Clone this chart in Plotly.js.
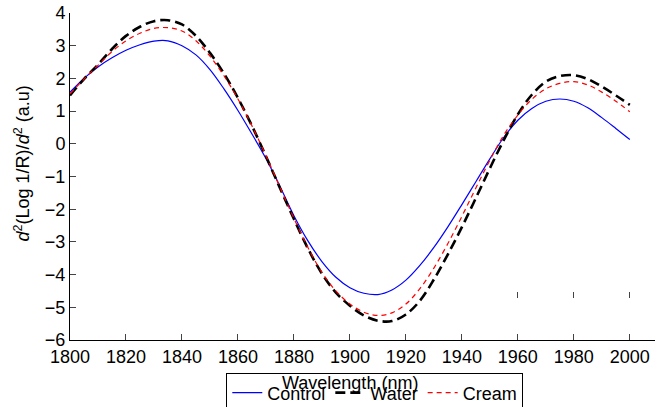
<!DOCTYPE html>
<html>
<head>
<meta charset="utf-8">
<script src="https://cdn.plot.ly/plotly-3.0.1.min.js"></script>
<style>html,body{margin:0;padding:0;background:#fff;}#chart{width:657px;height:407px;}</style>
</head>
<body>
<div id="chart"></div>
<script>
const wavelength = [1800,1805,1810,1815,1820,1825,1830,1835,1840,1845,1850,1855,1860,1865,1870,1875,1880,1885,1890,1895,1900,1905,1910,1915,1920,1925,1930,1935,1940,1945,1950,1955,1960,1965,1970,1975,1980,1985,1990,1995,2000];
const control = [1.58,2.0,2.35,2.63,2.86,3.03,3.14,3.15,3.0,2.72,2.27,1.68,1.02,0.3,-0.45,-1.3,-2.2,-2.97,-3.6,-4.08,-4.4,-4.57,-4.61,-4.47,-4.17,-3.72,-3.17,-2.54,-1.86,-1.16,-0.46,0.2,0.72,1.08,1.3,1.37,1.3,1.1,0.8,0.47,0.13];
const water = [1.48,1.98,2.42,2.9,3.3,3.58,3.75,3.78,3.65,3.3,2.78,2.15,1.4,0.55,-0.38,-1.35,-2.3,-3.2,-3.97,-4.55,-4.95,-5.25,-5.41,-5.42,-5.22,-4.8,-4.15,-3.38,-2.55,-1.66,-0.75,0.12,0.9,1.5,1.9,2.07,2.1,1.98,1.75,1.48,1.19];
const cream = [1.53,1.98,2.4,2.82,3.15,3.38,3.53,3.55,3.45,3.15,2.68,2.08,1.37,0.55,-0.36,-1.32,-2.28,-3.17,-3.93,-4.5,-4.9,-5.15,-5.25,-5.17,-4.9,-4.43,-3.8,-3.05,-2.22,-1.35,-0.5,0.27,0.88,1.36,1.68,1.85,1.9,1.8,1.58,1.3,0.98];
const seriesNames = ['Control','Water','Cream'];
const xTicks = [1800,1820,1840,1860,1880,1900,1920,1940,1960,1980,2000];
const yTicks = [-6,-5,-4,-3,-2,-1,0,1,2,3,4];
const strayTicks = [1960,1980,2000];

const FONT = 'Liberation Sans, Arial, Helvetica, sans-serif';
const traces = [
  {x: wavelength, y: control, name: seriesNames[0], type:'scatter', mode:'lines',
   line:{color:'#0000ff', width:1.2, shape:'spline'}},
  {x: wavelength, y: water, name: seriesNames[1], type:'scatter', mode:'lines',
   line:{color:'#000000', width:2.6, dash:'10px,5px', shape:'spline'}},
  {x: wavelength, y: cream, name: seriesNames[2], type:'scatter', mode:'lines',
   line:{color:'#ff0000', width:1.2, dash:'5px,4px', shape:'spline'}},
  {x: [strayTicks[0]], y: [null], xaxis:'x2', yaxis:'y', showlegend:false, hoverinfo:'skip', type:'scatter', mode:'lines'}
];
const layout = {
  width:657, height:407,
  margin:{l:70, r:2, t:13, b:67, autoexpand:false},
  paper_bgcolor:'#fff', plot_bgcolor:'#fff',
  font:{family:FONT, size:18, color:'#000'},
  showlegend:true,
  xaxis:{range:[1800,2009], tickvals:xTicks, ticktext:xTicks.map(String), ticks:'inside', ticklen:6, tickcolor:'#444', tickwidth:1,
         showline:true, linecolor:'#000', linewidth:1, showgrid:false, zeroline:false, mirror:false, automargin:false,
         tickfont:{family:FONT, size:18, color:'#000'}},
  xaxis2:{range:[1800,2009], overlaying:'x', anchor:'free', position:0.128, tickvals:strayTicks, ticks:'inside', ticklen:6,
          tickcolor:'#444', tickwidth:1, showline:false, showticklabels:false, showgrid:false, zeroline:false},
  yaxis:{range:[-6,4], tickvals:yTicks, ticks:'inside', ticklen:6, tickcolor:'#444', tickwidth:1, automargin:false,
         showline:true, linecolor:'#000', linewidth:1, showgrid:false, zeroline:false,
         tickfont:{family:FONT, size:18, color:'#000'}},
  legend:{orientation:'h', x:0.521, xanchor:'center', y:-0.162, yanchor:'middle', bgcolor:'#fff', bordercolor:'#000', borderwidth:1,
          font:{family:FONT, size:18, color:'#000'}, itemwidth:30, tracegroupgap:0},
  annotations:[
    {text:'Wavelength (nm)', xref:'x', yref:'paper', x:1900, y:-0.13, xanchor:'center', yanchor:'middle', showarrow:false,
     font:{family:FONT, size:18, color:'#000'}},
    {text:'<i>d</i><sup>2</sup>(Log 1/R)/<i>d</i><sup>2</sup> (a.u)', xref:'paper', yref:'y', x:-0.082, y:-0.6, textangle:-90,
     xanchor:'center', yanchor:'middle', showarrow:false, font:{family:FONT, size:18, color:'#000'}}
  ]
};
Plotly.newPlot('chart', traces, layout, {staticPlot:true, displayModeBar:false});
</script>
</body>
</html>
